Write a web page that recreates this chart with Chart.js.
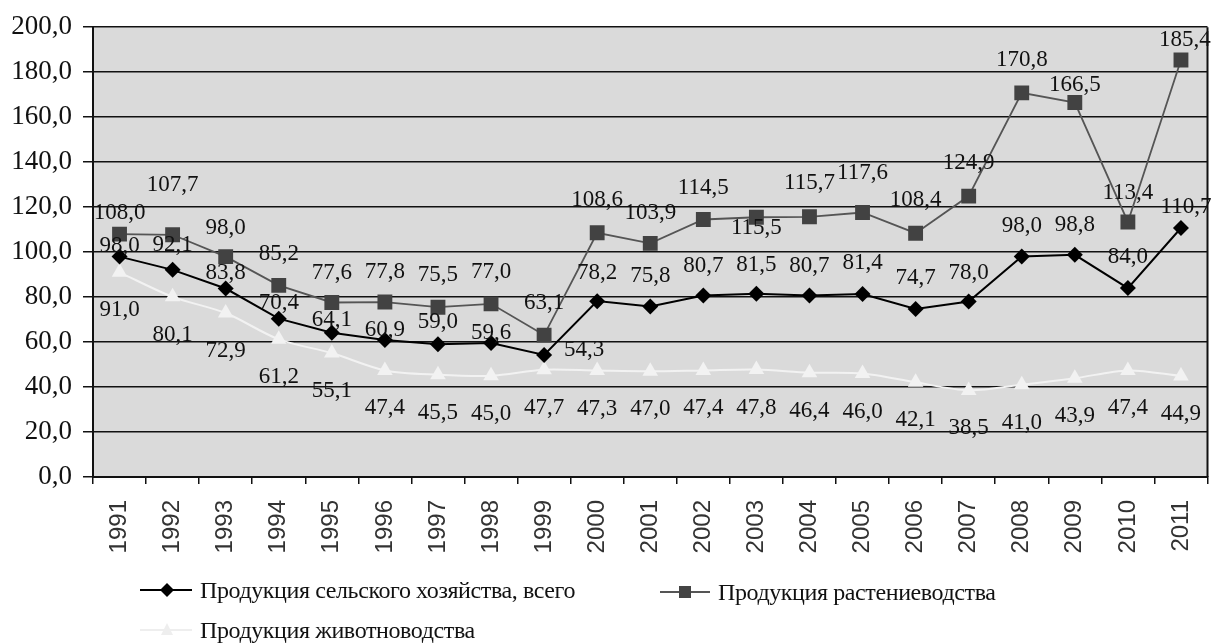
<!DOCTYPE html>
<html>
<head>
<meta charset="utf-8">
<script src="https://cdn.jsdelivr.net/npm/chart.js@4.4.1/dist/chart.umd.min.js"></script>
<style>
  html, body { margin: 0; padding: 0; background: #fff; }
  #wrap { position: relative; width: 1218px; height: 643px; }
  canvas { position: absolute; left: 0; top: 0; }
  .leg { position: absolute; display: flex; align-items: center; font-family: "Liberation Serif", "Times New Roman", serif; font-size: 24px; color: #111; white-space: nowrap; }
  .leg span { letter-spacing: -0.4px; }
  .leg svg { margin-right: 8px; }
</style>
</head>
<body>
<div id="wrap">
  <canvas id="c" width="1218" height="643"></canvas>
  <div class="leg" style="left:140px; top:575px;">
    <svg width="52" height="30"><line x1="0" y1="15" x2="52" y2="15" stroke="#000" stroke-width="2"/><polygon points="27,8 34,15 27,22 20,15" fill="#000"/></svg>
    <span>Продукция сельского хозяйства, всего</span>
  </div>
  <div class="leg" style="left:660px; top:577px;">
    <svg width="50" height="30"><line x1="0" y1="15" x2="50" y2="15" stroke="#555" stroke-width="2"/><rect x="19" y="9" width="12" height="12" fill="#444"/></svg>
    <span>Продукция растениеводства</span>
  </div>
  <div class="leg" style="left:140px; top:615px;">
    <svg width="52" height="30"><line x1="0" y1="15" x2="52" y2="15" stroke="#eeeeee" stroke-width="2"/><polygon points="27,8 33,20 21,20" fill="#eeeeee"/></svg>
    <span>Продукция животноводства</span>
  </div>
</div>
<script>
const years = ['1991','1992','1993','1994','1995','1996','1997','1998','1999','2000','2001','2002','2003','2004','2005','2006','2007','2008','2009','2010','2011'];
const totalValues = [98.0, 92.1, 83.8, 70.4, 64.1, 60.9, 59.0, 59.6, 54.3, 78.2, 75.8, 80.7, 81.5, 80.7, 81.4, 74.7, 78.0, 98.0, 98.8, 84.0, 110.7];
const cropValues = [108.0, 107.7, 98.0, 85.2, 77.6, 77.8, 75.5, 77.0, 63.1, 108.6, 103.9, 114.5, 115.5, 115.7, 117.6, 108.4, 124.9, 170.8, 166.5, 113.4, 185.4];
const livestockValues = [91.0, 80.1, 72.9, 61.2, 55.1, 47.4, 45.5, 45.0, 47.7, 47.3, 47.0, 47.4, 47.8, 46.4, 46.0, 42.1, 38.5, 41.0, 43.9, 47.4, 44.9];
const yTicks = [0, 20, 40, 60, 80, 100, 120, 140, 160, 180, 200];

// label nudges (pixels) for data labels, relative to the point
const totalLabelDy = [-11, -25, -16, -16, -13, -10, -22, -10, -5, -28, -31, -30, -29, -30, -31, -31, -29, -31, -30, -31, -21];
const totalLabelDx = [0, 0, 0, 0, 0, 0, 0, 0, 40, 0, 0, 0, 0, 0, 0, 0, 0, 0, 0, 0, 5];
const cropLabelDy = [-21, -50, -29, -31, -30, -30, -32, -32, -32, -33, -30, -32, 11, -34, -40, -33, -33, -33, -18, -29, -20];
const cropLabelDx = [0, 0, 0, 0, 0, 0, 0, 0, 0, 0, 0, 0, 0, 0, 0, 0, 0, 0, 0, 0, 4];
const livestockLabelDy = 38;

const fmt = v => v.toFixed(1).replace('.', ',');

const bgPlugin = {
  id: 'bg',
  beforeDraw(chart) {
    const {ctx, chartArea: a} = chart;
    ctx.save();
    ctx.fillStyle = '#dadada';
    ctx.fillRect(a.left, a.top, a.right - a.left, a.bottom - a.top);
    ctx.restore();
  },
  afterDraw(chart) {
    const {ctx, chartArea: a} = chart;
    ctx.save();
    ctx.strokeStyle = '#111';
    ctx.lineWidth = 2;
    ctx.beginPath();
    ctx.moveTo(a.right, a.top);
    ctx.lineTo(a.right, a.bottom);
    ctx.stroke();
    ctx.restore();
  }
};

const labelPlugin = {
  id: 'dlabels',
  afterDatasetsDraw(chart) {
    const {ctx} = chart;
    ctx.save();
    ctx.font = '23px "Liberation Serif", "Times New Roman", serif';
    ctx.fillStyle = '#111';
    ctx.textAlign = 'center';
    ctx.textBaseline = 'middle';
    chart.data.datasets.forEach((ds, di) => {
      const meta = chart.getDatasetMeta(di);
      meta.data.forEach((pt, i) => {
        let dx = 0, dy = 0;
        if (di === 0) { dx = totalLabelDx[i]; dy = totalLabelDy[i]; }
        else if (di === 1) { dx = cropLabelDx[i]; dy = cropLabelDy[i]; }
        else { dy = livestockLabelDy; }
        ctx.fillText(fmt(ds.data[i]), pt.x + dx, pt.y + dy);
      });
    });
    ctx.restore();
  }
};

new Chart(document.getElementById('c'), {
  type: 'line',
  data: {
    labels: years,
    datasets: [
      {
        label: 'Продукция сельского хозяйства, всего',
        data: totalValues,
        borderColor: '#000',
        backgroundColor: '#000',
        borderWidth: 2,
        pointStyle: 'rectRot',
        pointRadius: 8,
        pointBorderWidth: 0,
        tension: 0
      },
      {
        label: 'Продукция растениеводства',
        data: cropValues,
        borderColor: '#555',
        backgroundColor: '#424242',
        borderWidth: 1.8,
        pointStyle: 'rect',
        pointRadius: 10.5,
        pointBorderWidth: 0,
        tension: 0
      },
      {
        label: 'Продукция животноводства',
        data: livestockValues,
        borderColor: '#f2f2f2',
        backgroundColor: '#f2f2f2',
        borderWidth: 2,
        pointStyle: 'triangle',
        pointRadius: 9,
        pointBorderWidth: 0,
        tension: 0.3
      }
    ]
  },
  options: {
    responsive: false,
    animation: false,
    layout: { padding: { top: 27, right: 2, left: 0, bottom: 0 } },
    plugins: { legend: { display: false }, tooltip: { enabled: false } },
    scales: {
      x: {
        type: 'category',
        offset: true,
        grid: { offset: true, drawOnChartArea: false, color: '#111', lineWidth: 1.5, tickLength: 7 },
        border: { color: '#111', width: 2 },
        ticks: {
          autoSkip: false, minRotation: 90, maxRotation: 90, padding: 16,
          color: '#333',
          font: { family: '"Liberation Sans", Arial, sans-serif', size: 24 }
        },
        afterFit(scale) { scale.height = 166; scale.paddingLeft = 0; scale.paddingRight = 0; }
      },
      y: {
        min: 0, max: 200,
        afterBuildTicks(scale) { scale.ticks = yTicks.map(v => ({ value: v })); },
        grid: { color: '#111', lineWidth: 1.5, tickLength: 10 },
        border: { color: '#111', width: 2 },
        ticks: {
          padding: 11,
          color: '#111',
          font: { family: '"Liberation Serif", "Times New Roman", serif', size: 27 },
          callback: v => fmt(v)
        },
        afterFit(scale) { scale.width = 93; }
      }
    }
  },
  plugins: [bgPlugin, labelPlugin]
});
</script>
</body>
</html>
